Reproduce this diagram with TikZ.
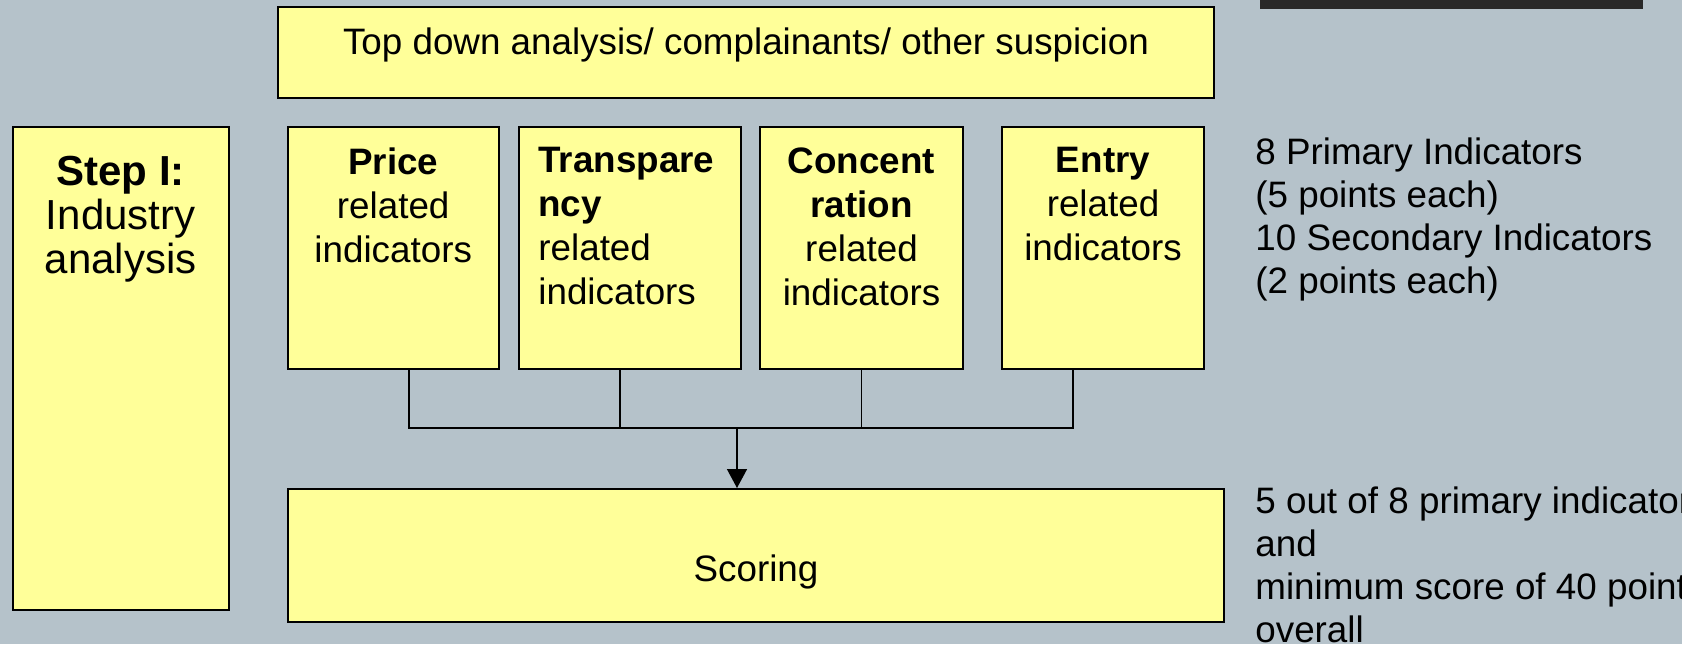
\documentclass[tikz,border=0pt]{standalone}
\usepackage{fontspec}
\setmainfont{Liberation Sans}
\usetikzlibrary{positioning,arrows.meta}
\definecolor{slidebg}{RGB}{181,194,202}
\definecolor{boxyellow}{RGB}{255,255,153}
\definecolor{barblack}{RGB}{41,41,41}

\begin{document}
\begin{tikzpicture}[x=0.5pt, y=-0.5pt, >={Triangle[length=9.5pt, width=10pt]},
    yellowbox/.style={draw=black, line width=1pt, fill=boxyellow, anchor=north west, inner sep=0pt},
    boxtext/.style={inner sep=0pt, align=center, font=\fontsize{18.4}{22}\selectfont},
    steptext/.style={inner sep=0pt, align=center, font=\fontsize{21}{22}\selectfont},
    notetext/.style={inner sep=0pt, align=left, anchor=north west, font=\fontsize{18.4}{21.5}\selectfont},
    link/.style={draw=black, line width=0.75pt}]

    % Slide background
    \useasboundingbox (0,0) rectangle (1682,644);
    \fill[slidebg] (0,0) rectangle (1682,644);
    \fill[barblack] (1260,0) rectangle (1643,9);

    % Boxes
    \node[yellowbox, minimum width=468pt, minimum height=45.5pt] (topbox) at (277,5.7) {};
    \node[yellowbox, minimum width=108pt, minimum height=241.5pt] (stepbox) at (11.7,126) {};
    \node[yellowbox, minimum width=105.5pt, minimum height=121pt] (price) at (286.7,126) {};
    \node[yellowbox, minimum width=111pt, minimum height=121pt] (transp) at (518,126) {};
    \node[yellowbox, minimum width=101.5pt, minimum height=121pt] (conc) at (759,126) {};
    \node[yellowbox, minimum width=101pt, minimum height=121pt] (entry) at (1001,126) {};
    \node[yellowbox, minimum width=468pt, minimum height=66.5pt] (scoring) at (287,488) {};

    % Box texts
    \node[boxtext, below=11pt of topbox.north] (toptxt) {Top down analysis/ complainants/ other suspicion};
    \node[steptext, below=15pt of stepbox.north] (steptxt) {\textbf{Step I:}\\Industry\\analysis};
    \node[boxtext, below=10.5pt of price.north] (pricetxt) {\textbf{Price}\\related\\indicators};
    \node[boxtext, align=left, below right=10.5pt and 10pt of transp.north west] (transptxt) {\textbf{Transpare}\\\textbf{ncy}\\related\\indicators};
    \node[boxtext, below=10.5pt of conc.north] (conctxt) {\textbf{Concent}\\\textbf{ration}\\related\\indicators};
    \node[boxtext, below=10.5pt of entry.north] (entrytxt) {\textbf{Entry}\\related\\indicators};
    \node[boxtext, below=33pt of scoring.north] (scoringtxt) {Scoring};

    % Side notes
    \node[notetext] (primnote) at (1255,137) {8 Primary Indicators\\(5 points each)\\10 Secondary Indicators\\(2 points each)};
    \node[notetext] (rulenote) at (1255,486) {5 out of 8 primary indicators\\and\\minimum score of 40 points\\overall};

    % Connectors
    \coordinate (join) at (737,428);
    \draw[link] ([xshift=8pt]price.south) |- (join);
    \draw[link] ([xshift=-5pt]transp.south) |- (join);
    \draw[link] (conc.south) |- (join);
    \draw[link] ([xshift=-15pt]entry.south) |- (join);
    \draw[link, ->] (join) -- (join |- scoring.north);

\end{tikzpicture}
\end{document}
